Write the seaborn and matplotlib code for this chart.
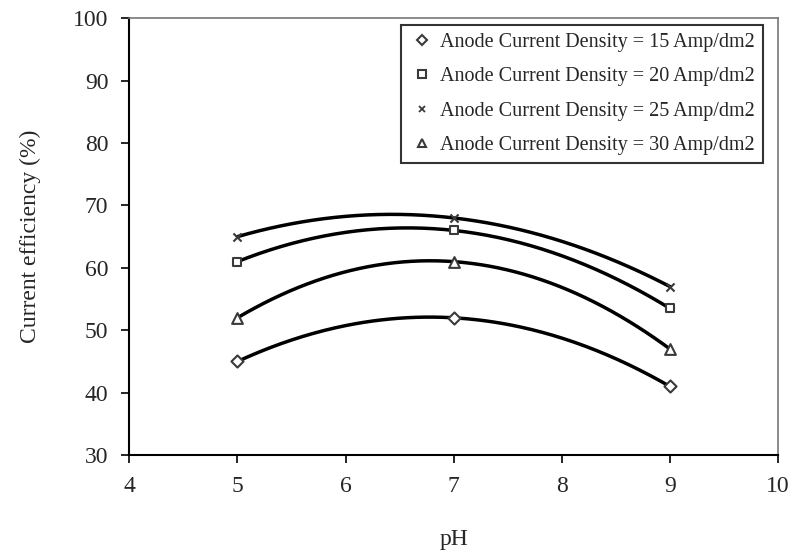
import numpy as np
import pandas as pd
import matplotlib
matplotlib.use("Agg")
import matplotlib.pyplot as plt
import seaborn as sns
from matplotlib.lines import Line2D

ph = [5, 7, 9]
cd15 = [45, 52, 41]
cd20 = [61, 66, 53.5]
cd25 = [65, 68, 57]
cd30 = [52, 61, 47]
labels = ["Anode Current Density = 15 Amp/dm2",
          "Anode Current Density = 20 Amp/dm2",
          "Anode Current Density = 25 Amp/dm2",
          "Anode Current Density = 30 Amp/dm2"]
series = [cd15, cd20, cd25, cd30]
marker_list = ["D", "s", "x", "^"]
marker_sizes = [38, 40, 34, 60]

sns.set_theme(style="ticks")
plt.rcParams["font.family"] = ["Liberation Serif", "DejaVu Serif"]

fig = plt.figure(figsize=(8.03, 5.51), dpi=100)
ax = fig.add_axes([0.161, 0.174, 0.808, 0.793])

pts = pd.DataFrame({
    "pH": np.tile(ph, 4),
    "CE": np.concatenate(series),
    "series": np.repeat(labels, 3),
})

# smooth curve through the three points of each series
curves = []
for lab, vals in zip(labels, series):
    coef = np.polyfit(ph, vals, 2)
    xx = np.linspace(ph[0], ph[-1], 200)
    curves.append(pd.DataFrame({"pH": xx, "CE": np.polyval(coef, xx), "series": lab}))
curves = pd.concat(curves)
sns.lineplot(data=curves, x="pH", y="CE", units="series", estimator=None,
             color="black", linewidth=2.5, legend=False, ax=ax, sort=False)

mk_color = "#3a3a3a"
for lab, vals, m, s in zip(labels, series, marker_list, marker_sizes):
    d = pts[pts["series"] == lab]
    if m == "x":
        sns.scatterplot(data=d, x="pH", y="CE", marker=m, s=s, color=mk_color,
                        linewidth=1.5, ax=ax, zorder=5, legend=False)
    else:
        sns.scatterplot(data=d, x="pH", y="CE", marker=m, s=s, facecolor="white",
                        edgecolor=mk_color, linewidth=1.5, ax=ax, zorder=5, legend=False)

ax.set_xlim(4, 10)
ax.set_ylim(30, 100)
ax.set_xticks(range(4, 11))
ax.set_yticks(range(30, 101, 10))
ax.tick_params(axis="both", labelsize=17, length=6, width=1.2, color="black",
               direction="out", pad=9)
for side in ["left", "bottom"]:
    ax.spines[side].set_color("black")
    ax.spines[side].set_linewidth(1.5)
for side in ["top", "right"]:
    ax.spines[side].set_color("#777777")
    ax.spines[side].set_linewidth(1.2)
ax.set_xlabel("pH", fontsize=17, labelpad=23)
ax.set_ylabel("Current efficiency (%)", fontsize=17, labelpad=23)

handles = []
for lab, m in zip(labels, marker_list):
    if m == "x":
        h = Line2D([], [], linestyle="none", marker=m, markersize=5, color=mk_color,
                   markeredgewidth=1.3)
    else:
        h = Line2D([], [], linestyle="none", marker=m, markersize=5.5,
                   markerfacecolor="white", markeredgecolor=mk_color, markeredgewidth=1.5)
    handles.append(h)
leg = ax.legend(handles, labels, loc="upper right", bbox_to_anchor=(0.977, 0.985),
                fontsize=14.5, frameon=True, fancybox=False, edgecolor="black",
                handletextpad=0.3, handlelength=1.2, labelspacing=0.75,
                borderpad=0.42, borderaxespad=0)
leg.get_frame().set_linewidth(1.5)

fig.savefig("out.png", dpi=100)
